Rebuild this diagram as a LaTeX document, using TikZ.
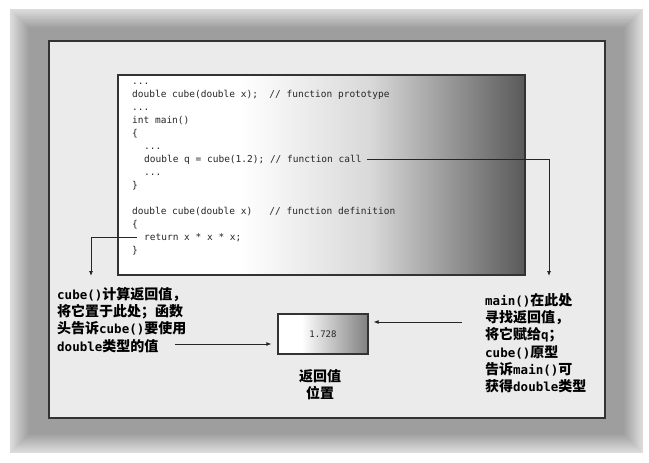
\documentclass[tikz,border=0pt]{standalone}
\usepackage{fontspec}
\setmonofont{DejaVu Sans Mono}
\newfontfamily\cjk{Noto Sans CJK SC}
\usetikzlibrary{arrows.meta,positioning}
\pgfdeclarehorizontalshading{codefade}{100bp}{color(0bp)=(white); color(25bp)=(white); color(40bp)=(white); color(56bp)=(black!15); color(75bp)=(black!65); color(100bp)=(black!65)}
\pgfdeclarehorizontalshading{valfade}{100bp}{color(0bp)=(white); color(25bp)=(white); color(38bp)=(white); color(75bp)=(black!50); color(100bp)=(black!50)}
\newcommand\latn[1]{{\ttfamily\bfseries\fontsize{12.5}{17.3}\selectfont #1}}

\begin{document}
\begin{tikzpicture}[x=1pt,y=-1pt,
  code/.style={anchor=base west,inner sep=0pt,text=black!85,font=\ttfamily\fontsize{9.5}{13}\selectfont},
  note/.style={inner sep=0pt,align=left,font=\cjk\bfseries\fontsize{14}{17.3}\selectfont},
  arr/.style={-{Latex[length=5pt,width=4pt]},line width=0.8pt,draw=black!85}
  ]
  % page and grey frame
  \useasboundingbox (0,0) rectangle (649,463);
  \fill[white] (0,0) rectangle (649,463);
  \foreach \i in {0,...,19}{
    \pgfmathtruncatemacro\g{14+1.3*\i}
    \fill[black!\g] (10+\i,9+\i) rectangle (643-\i,453-\i);
  }
  \draw[line width=1.3pt,draw=black!80,fill=black!8] (49,41) rectangle (605,418);

  % code listing
  \path[draw=black!80,line width=1.3pt,shade,shading=codefade] (118,75) rectangle (525,275);
  \node[code] (c1) at (132,84) {...};
  \node[code] (c2) at (132,97) {double cube(double x);\ \ // function prototype};
  \node[code] (c3) at (132,110) {...};
  \node[code] (c4) at (132,123) {int main()};
  \node[code] (c5) at (132,136) {\{};
  \node[code] (c6) at (144,149) {...};
  \node[code] (call) at (144,162) {double q = cube(1.2); // function call};
  \node[code] (c8) at (144,175) {...};
  \node[code] (c9) at (132,188) {\}};
  \node[code] (c10) at (132,214) {double cube(double x)\ \ \ // function definition};
  \node[code] (c11) at (132,227) {\{};
  \node[code] (ret) at (144,240) {return x * x * x;};
  \node[code] (c13) at (132,253) {\}};

  \coordinate (rtip) at (549,276);
  \coordinate (ltip) at (91,276);
  \draw[arr] ([xshift=5pt]call.mid east) -| (rtip);
  \draw[arr] ([xshift=-7pt]ret.mid west) -| (ltip);

  % return value location
  \node[draw=black!80,line width=1.3pt,shade,shading=valfade,minimum width=90pt,minimum height=40pt,
    text=black!85,font=\ttfamily\fontsize{9}{11}\selectfont] (val) at (323,334) {1.728};
  \node[note,align=center] (valname) at (320,385) {返回值\\位置};

  % notes
  \node[note,anchor=north west] (lnote) at (57,287)
    {\latn{cube()}计算返回值，\\将它置于此处；函数\\头告诉\latn{cube()}要使用\\\latn{double}类型的值};
  \node[note,anchor=north west] (rnote) at (485,293)
    {\latn{main()}在此处\\寻找返回值，\\将它赋给\latn{q}；\\\latn{cube()}原型\\告诉\latn{main()}可\\获得\latn{double}类型};
  \coordinate (lin) at (175,344);
  \coordinate (rin) at (462,322);
  \draw[arr,shorten >=6pt] (lin) -- (lin -| val.west);
  \draw[arr,shorten >=5pt] (rin) -- (rin -| val.east);
\end{tikzpicture}
\end{document}
